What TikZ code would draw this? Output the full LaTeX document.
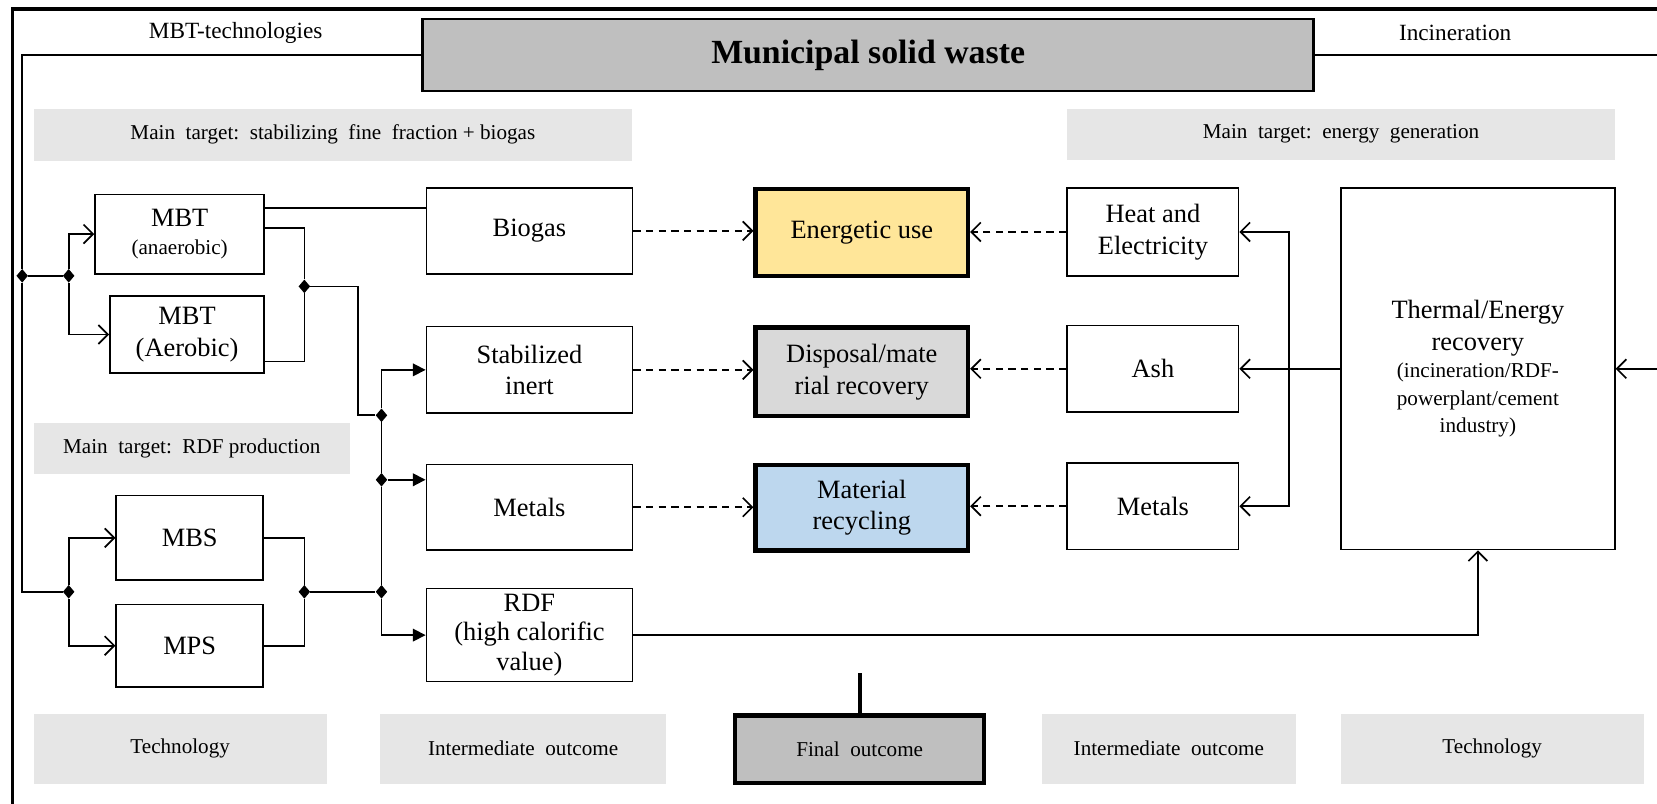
\documentclass[tikz,border=0pt]{standalone}
\usepackage{fontspec}
\setmainfont{Liberation Serif}
\usetikzlibrary{arrows.meta,shapes.geometric}
\newcommand\fsz[2]{\fontsize{#1}{#2}\selectfont}
\definecolor{lgray}{HTML}{E6E6E6}
\definecolor{mgray}{HTML}{BFBFBF}
\definecolor{dgray}{HTML}{D9D9D9}
\definecolor{yel}{HTML}{FFE699}
\definecolor{lblue}{HTML}{BDD7EE}
\tikzset{
  box/.style={draw, line width=1.6pt, fill=white, align=center, inner sep=0pt, font=\fsz{25}{30}},
  finbox/.style={draw, line width=4pt, align=center, inner sep=0pt, font=\fsz{25}{30}},
  lbl/.style={fill=lgray, inner sep=0pt, align=center, font=\fsz{20}{24}},
  plain/.style={inner sep=0pt, font=\fsz{20}{24}},
  dia/.style={diamond, fill=black, inner sep=0pt, minimum width=11pt, minimum height=13pt},
  con/.style={line width=1.6pt},
  oarr/.style={con, -{Straight Barb[length=9pt,width=18pt,line width=1.6pt]}},
  farr/.style={con, -{Triangle[length=12pt,width=12pt]}},
  darr/.style={con, dash pattern=on 7pt off 5pt, -{Straight Barb[length=9pt,width=18pt,line width=1.6pt]}},
}
\begin{document}
\begin{tikzpicture}[x=1pt,y=-1pt]
\useasboundingbox (0,0) rectangle (1568,760);
\clip (0,0) rectangle (1568,760);
\fill[white] (0,0) rectangle (1568,760);
% outer frame
\draw[line width=3pt] (12,900) -- (12,8.5) -- (1700,8.5);

% title
\node[draw, line width=2.5pt, fill=mgray, minimum width=843pt, minimum height=68pt, inner sep=0pt, font=\bfseries\fsz{32}{36}] (msw) at (821.5,52) {Municipal solid waste};
\node[plain, font=\fsz{22}{26}] (tmbt) at (223,31) {MBT-technologies};
\node[plain, font=\fsz{22}{26}] (tinc) at (1377,31) {Incineration};

% target labels
\node[lbl, minimum width=566pt, minimum height=49pt] (tg1) at (315,127.5) {Main\ \ target:\ \ stabilizing\ \ fine\ \ fraction + biogas};
\node[lbl, minimum width=299pt, minimum height=49pt] (tg2) at (181.5,424.5) {Main\ \ target:\ \ RDF production};
\node[lbl, minimum width=518pt, minimum height=48pt] (tg3) at (1269,127) {Main\ \ target:\ \ energy\ \ generation};

% technology boxes left
\node[box, minimum width=160pt, minimum height=75pt] (mbtan) at (170,221.5) {MBT\\[-3pt]{\fsz{20}{24}(anaerobic)}};
\node[box, minimum width=146pt, minimum height=73pt] (mbtae) at (177,316.5) {MBT\\(Aerobic)};
\node[box, minimum width=139pt, minimum height=80pt] (mbs) at (179.5,509) {MBS};
\node[box, minimum width=139pt, minimum height=78pt] (mps) at (179.5,611) {MPS};

% intermediate left
\node[box, minimum width=195pt, minimum height=81pt] (biogas) at (501,218.5) {Biogas};
\node[box, minimum width=195pt, minimum height=82pt] (stab) at (501,350) {Stabilized\\inert};
\node[box, minimum width=195pt, minimum height=81pt] (metL) at (501,480) {Metals};
\node[box, minimum width=195pt, minimum height=88pt, font=\fsz{25}{28}] (rdf) at (501,601) {RDF\\(high calorific\\value)};

% final outcomes
\node[finbox, fill=yel, minimum width=201pt, minimum height=82pt] (ener) at (815.5,220) {Energetic use};
\node[finbox, fill=dgray, minimum width=201pt, minimum height=84pt] (disp) at (815.5,352) {Disposal/mate\\rial recovery};
\node[finbox, fill=lblue, minimum width=201pt, minimum height=81pt] (mat) at (815.5,480.5) {Material\\recycling};

% intermediate right
\node[box, minimum width=162pt, minimum height=83pt] (heat) at (1091,219.5) {Heat and\\Electricity};
\node[box, minimum width=162pt, minimum height=82pt] (ash) at (1091,349) {Ash};
\node[box, minimum width=162pt, minimum height=82pt] (metR) at (1091,479) {Metals};

% thermal
\node[box, minimum width=259pt, minimum height=342pt] (therm) at (1398.5,349) {Thermal/Energy\\recovery\\[-4pt]{\fsz{20}{25}(incineration/RDF-}\\[-4pt]{\fsz{20}{25}powerplant/cement}\\[-4pt]{\fsz{20}{25}industry)}};

% legend
\node[lbl, minimum width=277pt, minimum height=66pt] (lg1) at (170.5,708.5) {Technology};
\node[lbl, minimum width=270pt, minimum height=66pt] (lg2) at (495,708.5) {Intermediate\ \ outcome};
\node[finbox, fill=mgray, minimum width=236pt, minimum height=64pt, font=\fsz{20}{24}] (lg3) at (813.5,709) {Final\ \ outcome};
\node[lbl, minimum width=240pt, minimum height=66pt] (lg4) at (1106,708.5) {Intermediate\ \ outcome};
\node[lbl, minimum width=287pt, minimum height=66pt] (lg5) at (1412,708.5) {Technology};
\coordinate (stem) at (813.5,637);
\draw[line width=4pt] (lg3.north) -- (stem);

% junctions
\node[dia] (jL) at (21,261) {};
\node[dia] (jA) at (65,261) {};
\node[dia] (jB) at (288,271) {};
\node[dia] (jC) at (361,393) {};
\node[dia] (jD) at (361,454) {};
\node[dia] (jE) at (361,560) {};
\node[dia] (jF) at (65,560) {};
\node[dia] (jG) at (288,560) {};
\coordinate (cbl) at (21,560);
\coordinate (k1) at (339,330);
\coordinate (r1) at (1220,349);
\coordinate (fr1) at (1600,52);
\coordinate (fr2) at (1600,349);

% left trunk
\draw[con] (msw.west) -| (jL) -- (cbl) -- (jF);
\draw[con] (jL) -- (jA);
\draw[oarr] (jA) |- (mbtan.west);
\draw[oarr] (jA) |- (mbtae.west);
\draw[oarr] (jF) |- (mbs.west);
\draw[oarr] (jF) |- (mps.west);

% MBT outputs
\draw[con] ([yshift=24.5pt]mbtan.east) coordinate (bg) -- (bg -| biogas.west);
\draw[con] ([yshift=5.5pt]mbtan.east) -| (jB);
\draw[con] ([yshift=-25.5pt]mbtae.east) -| (jB);
\draw[con] (jB) -| (k1) |- (jC);
\draw[con] (mbs.east) -| (jG);
\draw[con] (mps.east) -| (jG);
\draw[con] (jG) -- (jE);

% bus
\draw[farr] (jC) |- (stab.west);
\draw[con] (jC) -- (jD) -- (jE);
\draw[farr] (jD) -- (jD -| metL.west);
\draw[farr] (jE) |- (rdf.west);

% dashed to final
\draw[darr] (biogas.east) -- (biogas.east -| ener.west);
\draw[darr] (stab.east) -- (stab.east -| disp.west);
\draw[darr] (metL.east) -- (metL.east -| mat.west);
\draw[darr] (heat.west) -- (heat.west -| ener.east);
\draw[darr] (ash.west) -- (ash.west -| disp.east);
\draw[darr] (metR.west) -- (metR.west -| mat.east);

% thermal outputs
\draw[oarr] (therm.west) -- (therm.west -| ash.east);
\draw[oarr] (r1) |- (heat.east);
\draw[oarr] (r1) |- (metR.east);
\draw[oarr] (rdf.east) -| (therm.south);
\draw[con] (msw.east) -- (fr1) -- (fr2);
\draw[oarr] (fr2) -- (therm.east);
\end{tikzpicture}
\end{document}
